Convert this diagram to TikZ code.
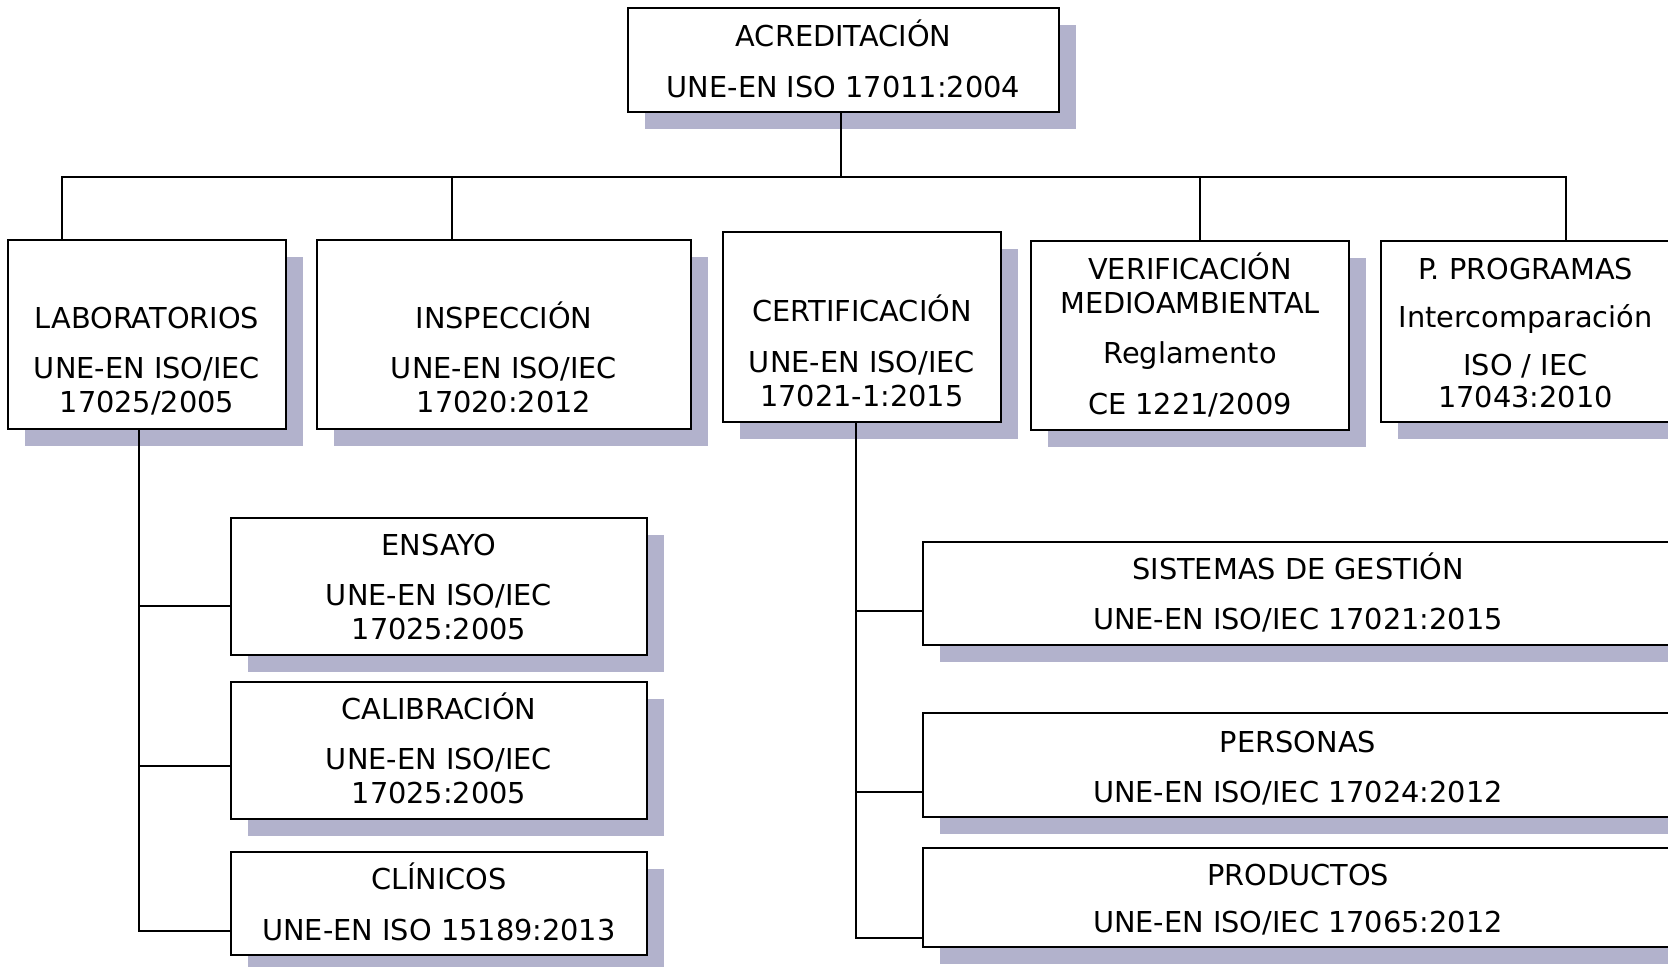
\documentclass[tikz,border=0pt]{standalone}
\usepackage{fontspec}
\setmainfont{DejaVu Sans}
\usetikzlibrary{shadows}
\definecolor{shadowc}{RGB}{178,178,204}
\begin{document}
\begin{tikzpicture}[x=0.5pt,y=-0.5pt,
  box/.style={draw=black, line width=1pt, fill=white, inner sep=0pt, rectangle,
    drop shadow={shadow xshift=8.5pt, shadow yshift=-8.5pt, fill=shadowc, opacity=1}},
  txt/.style={anchor=base, inner sep=0pt, font=\fontsize{14.4pt}{17pt}\selectfont},
  conn/.style={draw=black, line width=1pt}]
\useasboundingbox (0,0) rectangle (1668,966);
\clip (0,0) rectangle (1668,966);
% boxes
\node[box, minimum width=215.5pt, minimum height=52pt] (acred) at (843.5,60) {};
\node[box, minimum width=139pt, minimum height=94.5pt] (lab) at (147,334.5) {};
\node[box, minimum width=187pt, minimum height=94.5pt] (insp) at (504,334.5) {};
\node[box, minimum width=139pt, minimum height=95pt] (cert) at (862,327) {};
\node[box, minimum width=159pt, minimum height=94.5pt] (verif) at (1190,335.5) {};
\node[box, minimum width=144.5pt, minimum height=90.5pt] (pp) at (1525.5,331.5) {};
\node[box, minimum width=208pt, minimum height=68.5pt] (ens) at (439,586.5) {};
\node[box, minimum width=208pt, minimum height=68.5pt] (cal) at (439,750.5) {};
\node[box, minimum width=208pt, minimum height=51.5pt] (cli) at (439,903.5) {};
\node[box, minimum width=375pt, minimum height=51.5pt] (sg) at (1298,593.5) {};
\node[box, minimum width=375pt, minimum height=52pt] (pers) at (1298,765) {};
\node[box, minimum width=375pt, minimum height=49.5pt] (prod) at (1298,897.5) {};
% texts
\node[txt] (t1) at (843.5,46) {ACREDITACIÓN};
\node[txt] (t2) at (843.5,97) {UNE-EN ISO 17011:2004};
\node[txt] (t3) at (147,328) {LABORATORIOS};
\node[txt] (t4) at (147,378) {UNE-EN ISO/IEC};
\node[txt] (t5) at (147,412) {17025/2005};
\node[txt] (t6) at (504,328) {INSPECCIÓN};
\node[txt] (t7) at (504,378) {UNE-EN ISO/IEC};
\node[txt] (t8) at (504,412) {17020:2012};
\node[txt] (t9) at (862,321) {CERTIFICACIÓN};
\node[txt] (t10) at (862,372) {UNE-EN ISO/IEC};
\node[txt] (t11) at (862,406) {17021-1:2015};
\node[txt] (t12) at (1190,279) {VERIFICACIÓN};
\node[txt] (t13) at (1190,313) {MEDIOAMBIENTAL};
\node[txt] (t14) at (1190,363) {Reglamento};
\node[txt] (t15) at (1190,414) {CE 1221/2009};
\node[txt] (t16) at (1525.5,279) {P. PROGRAMAS};
\node[txt] (t17) at (1525.5,327) {Intercomparación};
\node[txt] (t18) at (1525.5,375) {ISO / IEC};
\node[txt] (t19) at (1525.5,407) {17043:2010};
\node[txt] (t20) at (439,555) {ENSAYO};
\node[txt] (t21) at (439,605) {UNE-EN ISO/IEC};
\node[txt] (t22) at (439,639) {17025:2005};
\node[txt] (t23) at (439,719) {CALIBRACIÓN};
\node[txt] (t24) at (439,769) {UNE-EN ISO/IEC};
\node[txt] (t25) at (439,803) {17025:2005};
\node[txt] (t26) at (439,889) {CLÍNICOS};
\node[txt] (t27) at (439,940) {UNE-EN ISO 15189:2013};
\node[txt] (t28) at (1298,579) {SISTEMAS DE GESTIÓN};
\node[txt] (t29) at (1298,629) {UNE-EN ISO/IEC 17021:2015};
\node[txt] (t30) at (1298,752) {PERSONAS};
\node[txt] (t31) at (1298,802) {UNE-EN ISO/IEC 17024:2012};
\node[txt] (t32) at (1298,885) {PRODUCTOS};
\node[txt] (t33) at (1298,932) {UNE-EN ISO/IEC 17065:2012};
% connector points
\coordinate (acredbot) at (841,112);
\coordinate (bus) at (841,177);
\coordinate (labtop) at (62,240);
\coordinate (insptop) at (452,240);
\coordinate (veriftop) at (1200,241);
\coordinate (pptop) at (1566,241);
\coordinate (labbot) at (139,429);
\coordinate (certbot) at (856,422);
\coordinate (ensin) at (231,606);
\coordinate (calin) at (231,766);
\coordinate (cliin) at (231,931);
\coordinate (sgin) at (923,611);
\coordinate (persin) at (923,792);
\coordinate (prodin) at (923,938);
% connectors
\draw[conn] (acredbot) -- (bus);
\draw[conn] (labtop) |- (bus) -| (pptop);
\draw[conn] (insptop) -- (insptop |- bus);
\draw[conn] (veriftop) -- (veriftop |- bus);
\draw[conn] (labbot) |- (cliin);
\draw[conn] (labbot |- ensin) -- (ensin);
\draw[conn] (labbot |- calin) -- (calin);
\draw[conn] (certbot) |- (prodin);
\draw[conn] (certbot |- sgin) -- (sgin);
\draw[conn] (certbot |- persin) -- (persin);
\end{tikzpicture}
\end{document}
